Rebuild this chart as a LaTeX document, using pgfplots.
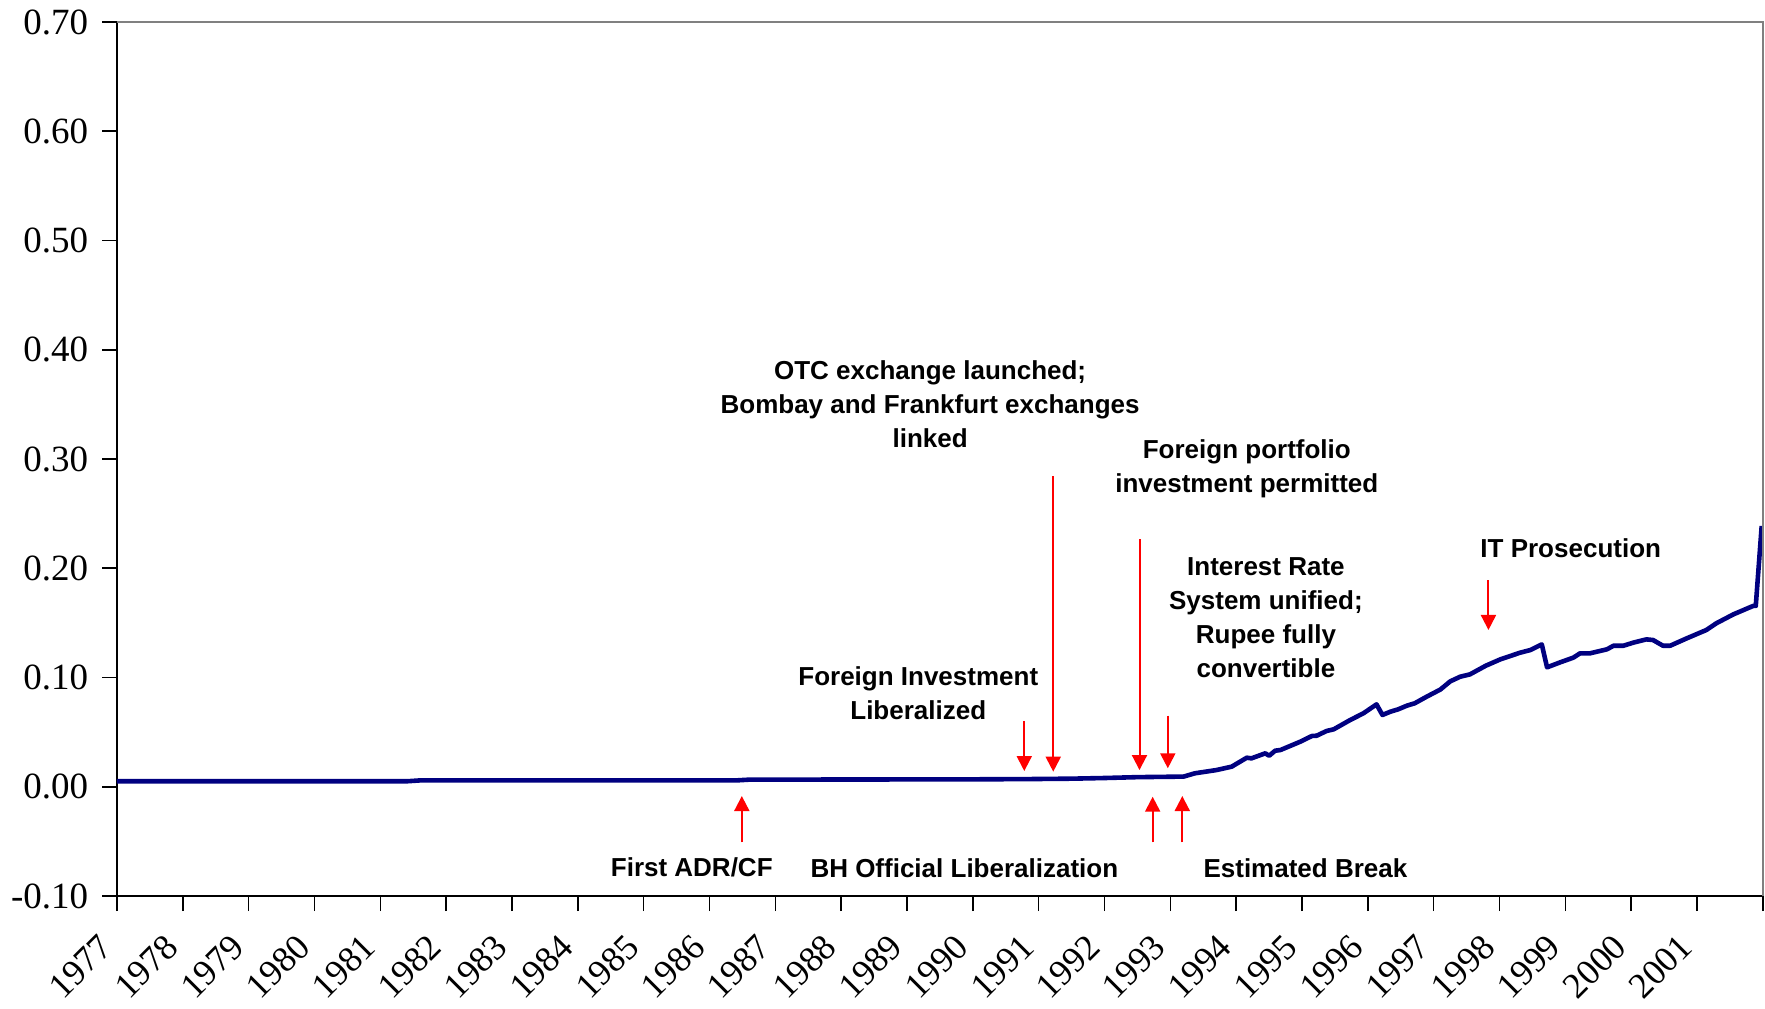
\documentclass[border=0pt]{standalone}
\usepackage{fontspec}
\setmainfont{Liberation Serif}
\newfontfamily\annfont{Liberation Sans}
\usepackage{pgfplots}
\pgfplotsset{compat=1.18}
\usetikzlibrary{arrows.meta}

\definecolor{seriesnavy}{RGB}{0,0,128}
\tikzset{
  annot/.style={font=\annfont\bfseries\fontsize{13}{17}\selectfont, align=center},
  arr/.style={red, line width=1pt, -{Triangle[width=7.5pt,length=7.5pt]}},
}

\begin{document}
\begin{tikzpicture}
\begin{axis}[
  scale only axis, width=823pt, height=437pt,
  xmin=1977, xmax=2002, ymin=-0.1, ymax=0.7,
  axis x line*=bottom, axis y line*=left,
  axis line style={black, line width=1pt},
  tick align=outside, major tick length=7.5pt,
  tick style={black, line width=0.8pt},
  xtick={1977,...,2002},
  xticklabels={1977,1978,1979,1980,1981,1982,1983,1984,1985,1986,1987,1988,1989,1990,1991,1992,1993,1994,1995,1996,1997,1998,1999,2000,2001,{}},
  ytick={-0.1,0,0.1,0.2,0.3,0.4,0.5,0.6,0.7},
  /pgf/number format/assume math mode=true,
  yticklabel style={/pgf/number format/fixed, /pgf/number format/zerofill, /pgf/number format/precision=2,
    font=\fontsize{18.5}{21}\selectfont, xshift=-3.4pt},
  xticklabel style={xshift=-3pt, yshift=-12.5pt, rotate=45, anchor=east, font=\fontsize{18}{21}\selectfont},
  clip=false,
]
\addplot[seriesnavy, line width=2.3pt, line join=round] coordinates {
(1977,0.0050) (1981.4,0.0050) (1981.6,0.0058) (1986.4,0.0058) (1986.6,0.0065)
(1990.0,0.0068) (1990.8,0.0070) (1991.5,0.0074) (1992.0,0.0080) (1992.5,0.0088)
(1993.2,0.0093) (1993.37,0.0123) (1993.70,0.0153) (1993.93,0.0184) (1994.16,0.0266)
(1994.23,0.0260) (1994.44,0.0306) (1994.50,0.0284) (1994.59,0.0330) (1994.67,0.0336)
(1994.97,0.0412) (1995.15,0.0465) (1995.22,0.0467) (1995.37,0.0510) (1995.48,0.0526)
(1995.73,0.0611) (1995.93,0.0672) (1996.13,0.0754) (1996.22,0.0657) (1996.34,0.0687)
(1996.46,0.0709) (1996.59,0.0742) (1996.71,0.0764) (1996.89,0.0824) (1997.10,0.0890)
(1997.25,0.0965) (1997.40,0.1007) (1997.55,0.1029) (1997.79,0.1108) (1998.01,0.1166)
(1998.31,0.1227) (1998.47,0.1252) (1998.64,0.1303) (1998.72,0.1093) (1998.92,0.1139)
(1999.12,0.1182) (1999.22,0.1221) (1999.37,0.1221) (1999.63,0.1258) (1999.73,0.1291)
(1999.88,0.1291) (2000.03,0.1319) (2000.23,0.1349) (2000.33,0.1343) (2000.48,0.1291)
(2000.59,0.1291) (2000.84,0.1358) (2001.14,0.1435) (2001.29,0.1496) (2001.55,0.1578)
(2001.85,0.1655) (2001.89,0.1655) (2001.98,0.2387)
};
% plot border on top and right
\draw[gray, line width=1pt] (rel axis cs:0,1) -- (rel axis cs:1,1) -- (rel axis cs:1,0);

% event arrows
\draw[arr] (axis cs:1986.49,-0.051) -- (axis cs:1986.49,-0.0085);
\draw[arr] (axis cs:1992.73,-0.051) -- (axis cs:1992.73,-0.0091);
\draw[arr] (axis cs:1993.18,-0.051) -- (axis cs:1993.18,-0.0085);
\draw[arr] (axis cs:1990.78,0.0602) -- (axis cs:1990.78,0.0144);
\draw[arr] (axis cs:1991.22,0.284) -- (axis cs:1991.22,0.0138);
\draw[arr] (axis cs:1992.53,0.2266) -- (axis cs:1992.53,0.0153);
\draw[arr] (axis cs:1992.96,0.065) -- (axis cs:1992.96,0.0169);
\draw[arr] (axis cs:1997.83,0.189) -- (axis cs:1997.83,0.1435);

% event labels
\node[annot] at (axis cs:1989.35,0.350) {OTC exchange launched;\\Bombay and Frankfurt exchanges\\linked};
\node[annot] at (axis cs:1994.16,0.291) {Foreign portfolio\\investment permitted};
\node[annot] at (axis cs:1994.45,0.155) {Interest Rate\\System unified;\\Rupee fully\\convertible};
\node[annot] at (axis cs:1999.08,0.218) {IT Prosecution};
\node[annot] at (axis cs:1989.17,0.0855) {Foreign Investment\\Liberalized};
\node[annot] at (axis cs:1985.73,-0.0742) {First ADR/CF};
\node[annot] at (axis cs:1989.87,-0.0742) {BH Official Liberalization};
\node[annot] at (axis cs:1995.05,-0.0742) {Estimated Break};
\end{axis}
\pgfresetboundingbox
\path ([shift={(-58.5pt,-56pt)}]current axis.south west) rectangle ([shift={(1pt,11pt)}]current axis.north east);
\end{tikzpicture}
\end{document}
